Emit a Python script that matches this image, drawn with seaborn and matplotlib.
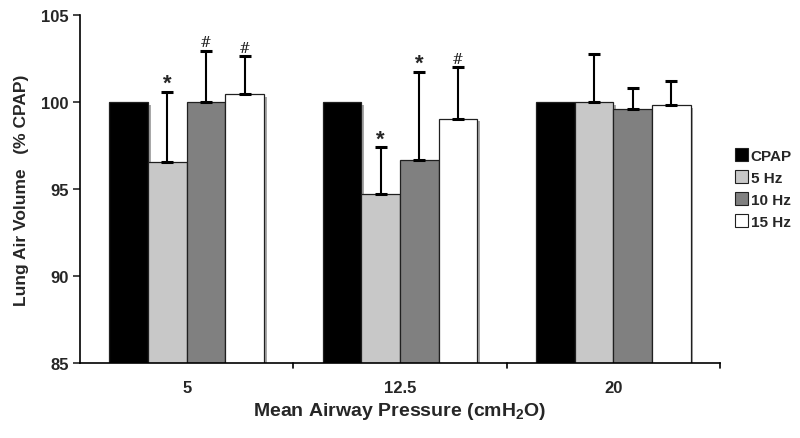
import numpy as np
import pandas as pd
import matplotlib
matplotlib.use("Agg")
import matplotlib.pyplot as plt
import matplotlib.patheffects as pe
from matplotlib.patches import Patch
import seaborn as sns

# ============ DATA ============
pressures = ["5", "12.5", "20"]
groups = ["CPAP", "5 Hz", "10 Hz", "15 Hz"]

cpap_mean = [100.0, 100.0, 100.0]
hz5_mean = [96.55, 94.7, 100.0]
hz10_mean = [100.0, 96.65, 99.6]
hz15_mean = [100.45, 99.05, 99.85]

cpap_err = [0.0, 0.0, 0.0]
hz5_err = [4.05, 2.7, 2.75]
hz10_err = [2.95, 5.1, 1.2]
hz15_err = [2.2, 2.95, 1.35]

hz5_sig = ["*", "*", ""]
hz10_sig = ["#", "*", ""]
hz15_sig = ["#", "#", ""]

colors = ["#000000", "#c8c8c8", "#808080", "#ffffff"]

means = [cpap_mean, hz5_mean, hz10_mean, hz15_mean]
errs = [cpap_err, hz5_err, hz10_err, hz15_err]
sigs = [["", "", ""], hz5_sig, hz10_sig, hz15_sig]

rows = []
for g, m in zip(groups, means):
    for p, v in zip(pressures, m):
        rows.append({"pressure": p, "group": g, "volume": v})
df = pd.DataFrame(rows)

# ============ STYLE ============
sns.set_style("white")
plt.rcParams["font.family"] = ["Liberation Sans", "DejaVu Sans"]
plt.rcParams["font.weight"] = "bold"
plt.rcParams["mathtext.fontset"] = "custom"
plt.rcParams["mathtext.rm"] = "Liberation Sans:bold"
plt.rcParams["mathtext.bf"] = "Liberation Sans:bold"

fig = plt.figure(figsize=(8, 4.39), dpi=100)
ax = fig.add_axes([0.1, 0.171, 0.8, 0.792])

sns.barplot(data=df, x="pressure", y="volume", hue="group",
            order=pressures, hue_order=groups, palette=colors,
            saturation=1, width=0.725, errorbar=None,
            edgecolor="#202020", linewidth=0.9, legend=False, ax=ax)

# grey drop shadow like the original Excel figure
shadow = [pe.SimplePatchShadow(offset=(2, -2), shadow_rgbFace="#a8a8a8", alpha=1.0), pe.Normal()]

bar_conts = list(ax.containers)
for i, cont in enumerate(bar_conts):
    xs, ys, es = [], [], []
    for j, bar in enumerate(cont):
        bar.set_path_effects(shadow)
        xc = bar.get_x() + bar.get_width() / 2
        if errs[i][j] > 0:
            xs.append(xc)
            ys.append(means[i][j])
            es.append(errs[i][j])
        if sigs[i][j]:
            top = means[i][j] + errs[i][j]
            if sigs[i][j] == "*":
                ax.annotate("*", (xc, top), xytext=(0, -1.5), textcoords="offset points",
                            ha="center", va="bottom", fontsize=16, fontweight="bold")
            else:
                ax.annotate("#", (xc, top), xytext=(0, 1), textcoords="offset points",
                            ha="center", va="bottom", fontsize=10, fontweight="normal",
                            family=["DejaVu Serif"])
    if xs:
        ax.errorbar(xs, ys, yerr=[np.zeros(len(es)), es], fmt="none",
                    ecolor="black", elinewidth=1.5, capsize=4, capthick=2.2, zorder=1)

ax.set_ylim(85, 105)
ax.set_xlim(-0.5, 2.5)
ax.set_yticks([85, 90, 95, 100, 105])
ax.tick_params(axis="y", direction="out", length=5, width=1.2, labelsize=12, left=True, pad=3)
ax.set_xticks([0, 1, 2])
ax.set_xticklabels(pressures)
ax.tick_params(axis="x", length=0, labelsize=12, pad=12)
for xb in [0.5, 1.5, 2.5]:
    ax.plot([xb, xb], [0, -0.015], transform=ax.get_xaxis_transform(),
            color="black", lw=1.2, clip_on=False)

for s in ["top", "right"]:
    ax.spines[s].set_visible(False)
for s in ["left", "bottom"]:
    ax.spines[s].set_color("black")
    ax.spines[s].set_linewidth(1.2)

ax.set_ylabel("Lung Air Volume   (% CPAP)", fontsize=12.5, fontweight="bold", labelpad=9)
ax.set_xlabel(r"Mean Airway Pressure (cmH$\mathregular{_2}$O)", fontsize=14,
              fontweight="bold", labelpad=4)

handles = [Patch(facecolor=c, edgecolor="#202020", linewidth=0.8) for c in colors]
fig.legend(handles, groups, loc="center left", bbox_to_anchor=(0.906, 0.568),
           frameon=False, handlelength=0.85, handleheight=0.85,
           handletextpad=0.15, labelspacing=0.5, borderpad=0.2,
           prop={"weight": "bold", "size": 11})

fig.savefig("out.png", dpi=100)
